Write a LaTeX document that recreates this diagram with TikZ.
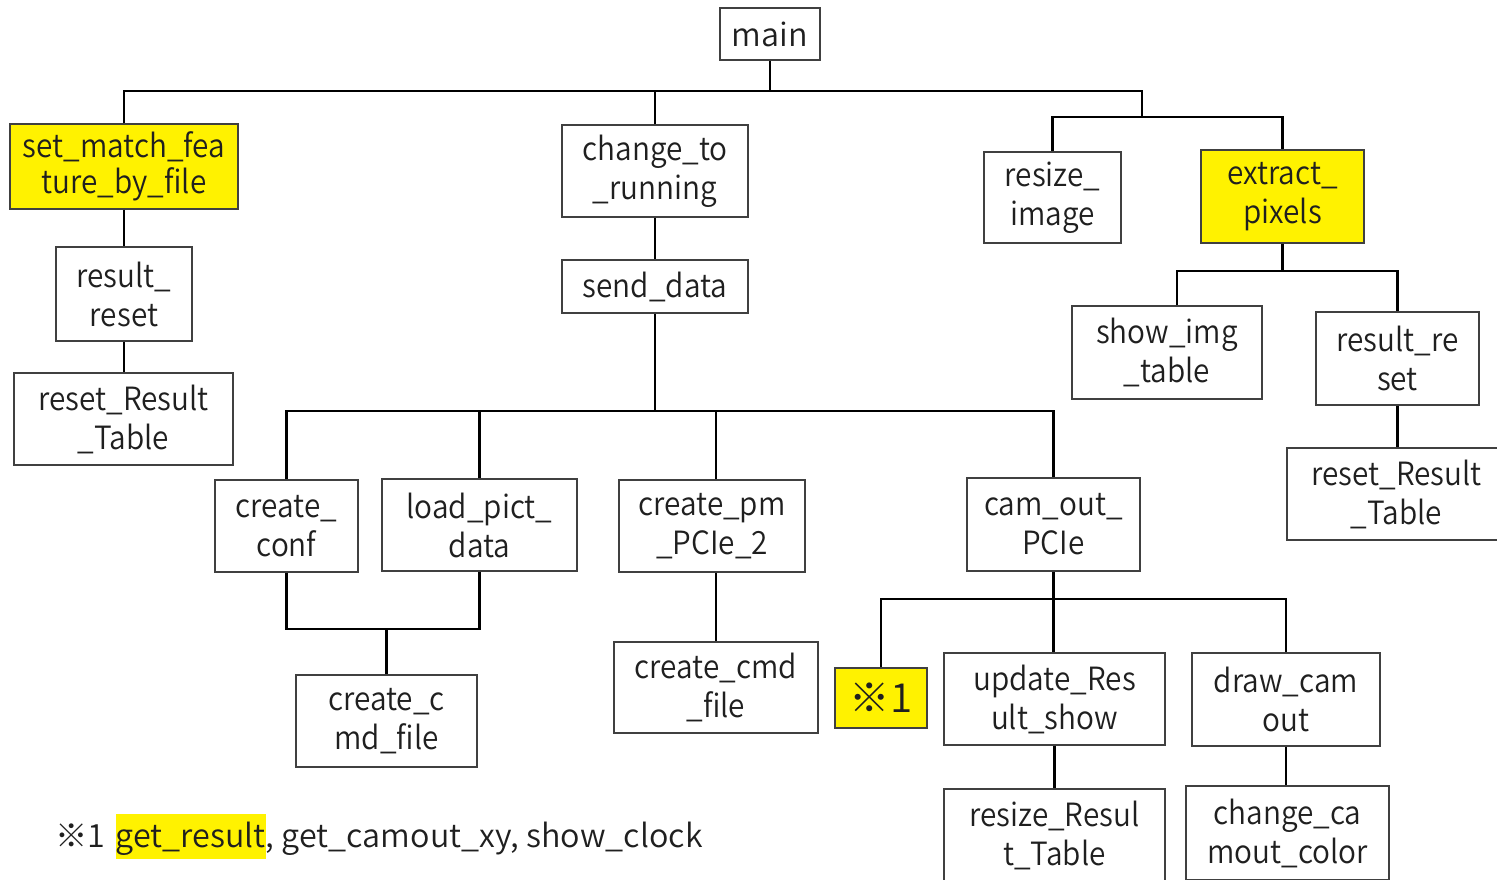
\documentclass[tikz,border=0pt]{standalone}
\usepackage{fontspec}
\setmainfont{Noto Sans CJK JP}[UprightFont=* DemiLight, FakeStretch=1.01]
\newfontfamily\boxfamily{Noto Sans CJK JP}[UprightFont=* DemiLight, FakeStretch=0.93]
\newcommand{\labelfont}{\boxfamily\fontsize{32}{39}\selectfont}
\newcommand{\notefont}{\fontsize{32}{39}\selectfont}
\tikzset{
  fnbox/.style={draw=black!75, line width=1.3pt, fill=white, inner sep=0pt,
    align=center, font=\labelfont, text=black!88},
  fnmark/.style={fnbox, fill=yellow},
  wire/.style={line width=2.6pt, black},
  note/.style={inner sep=0pt, anchor=base west, font=\notefont, text=black!88}
}
\begin{document}
\begin{tikzpicture}[x=1pt, y=-1pt]
\useasboundingbox (0,0) rectangle (1497,879);

% call tree nodes
\node[fnbox, minimum width=100, minimum height=52, font=\notefont] (main) at (770,34) {main};
\node[fnmark, minimum width=228, minimum height=85, font=\boxfamily\fontsize{32}{36}\selectfont] (setm) at (124,166.5) {set\_match\_fea\\ture\_by\_file};
\node[fnbox, minimum width=136, minimum height=94] (rres1) at (124,294) {result\_\\reset};
\node[fnbox, minimum width=219, minimum height=92] (rrt1) at (123.5,419) {reset\_Result\\\_Table};
\node[fnbox, minimum width=186, minimum height=92] (chg) at (655,171) {change\_to\\\_running};
\node[fnbox, minimum width=186, minimum height=53] (send) at (655,286.5) {send\_data};
\node[fnbox, minimum width=137, minimum height=91] (rimg) at (1052.5,197.5) {resize\_\\image};
\node[fnmark, minimum width=163, minimum height=93] (expx) at (1282.5,196.5) {extract\_\\pixels};
\node[fnbox, minimum width=190, minimum height=93] (shimg) at (1167,352.5) {show\_img\\\_table};
\node[fnbox, minimum width=163, minimum height=93] (rres2) at (1397.5,358.5) {result\_re\\set};
\node[fnbox, minimum width=219, minimum height=92] (rrt2) at (1396.5,494) {reset\_Result\\\_Table};
\node[fnbox, minimum width=143, minimum height=92] (cconf) at (286.5,526) {create\_\\conf};
\node[fnbox, minimum width=195, minimum height=92] (lpd) at (479.5,525) {load\_pict\_\\data};
\node[fnbox, minimum width=186, minimum height=92] (cpm) at (712,526) {create\_pm\\\_PCIe\_2};
\node[fnbox, minimum width=173, minimum height=93] (cam) at (1053.5,524.5) {cam\_out\_\\PCIe};
\node[fnbox, minimum width=181, minimum height=92] (ccmd1) at (386.5,721) {create\_c\\md\_file};
\node[fnbox, minimum width=204, minimum height=91] (ccmd2) at (716,687.5) {create\_cmd\\\_file};
\node[fnmark, minimum width=92, minimum height=60, font=\fontsize{40}{44}\selectfont] (note1) at (881,698) {※1};
\node[fnbox, minimum width=221, minimum height=92] (upd) at (1054.5,699) {update\_Res\\ult\_show};
\node[fnbox, minimum width=188, minimum height=93] (dcam) at (1286,699.5) {draw\_cam\\out};
\node[fnbox, minimum width=221, minimum height=92] (rrt3) at (1054.5,835) {resize\_Resul\\t\_Table};
\node[fnbox, minimum width=203, minimum height=94] (ccol) at (1287.5,833) {change\_ca\\mout\_color};

% junction points of the buses
\coordinate (j1) at (1142,91);
\coordinate (j2) at (1142,117);
\coordinate (j3) at (655,411);
\coordinate (j4) at (0,629);
\coordinate (j5) at (0,271);
\coordinate (j6) at (0,599);

% connectors
\draw[wire] (main.south) -- (main.south |- j1);
\draw[wire] (setm.north) |- (j1) -- (j2);
\draw[wire] (chg.north) -- (chg.north |- j1);
\draw[wire] (rimg.north) |- (j2) -| (expx.north);
\draw[wire] (setm.south) -- (rres1.north);
\draw[wire] (rres1.south) -- (rres1.south |- rrt1.north);
\draw[wire] (chg.south) -- (send.north);
\draw[wire] (send.south) -- (j3);
\draw[wire] (cconf.north) |- (cam.north |- j3) -- (cam.north);
\draw[wire] (lpd.north) -- (lpd.north |- j3);
\draw[wire] ([xshift=4]cpm.north) -- ([xshift=4]cpm.north |- j3);
\draw[wire] (cconf.south) |- (lpd.south |- j4) -- (lpd.south);
\draw[wire] (ccmd1.north) -- (ccmd1.north |- j4);
\draw[wire] ([xshift=4]cpm.south) -- (ccmd2.north);
\draw[wire] (expx.south) -- (expx.south |- j5);
\draw[wire] ([xshift=10]shimg.north) |- (rres2.north |- j5) -- (rres2.north);
\draw[wire] (rres2.south) -- (rres2.south |- rrt2.north);
\draw[wire] (cam.south) -- (cam.south |- upd.north);
\draw[wire] (note1.north) |- (dcam.north |- j6) -- (dcam.north);
\draw[wire] (upd.south) -- (rrt3.north);
\draw[wire] (dcam.south) -- (dcam.south |- ccol.north);

% footnote
\node[note] (fnmk) at (55,847) {※1};
\node[note, fill=yellow, text height=33pt, text depth=12pt] (fnhl) at ([xshift=10]fnmk.base east) {get\_result};
\node[note] (fnrest) at (fnhl.base east) {, get\_camout\_xy, show\_clock};
\end{tikzpicture}
\end{document}
